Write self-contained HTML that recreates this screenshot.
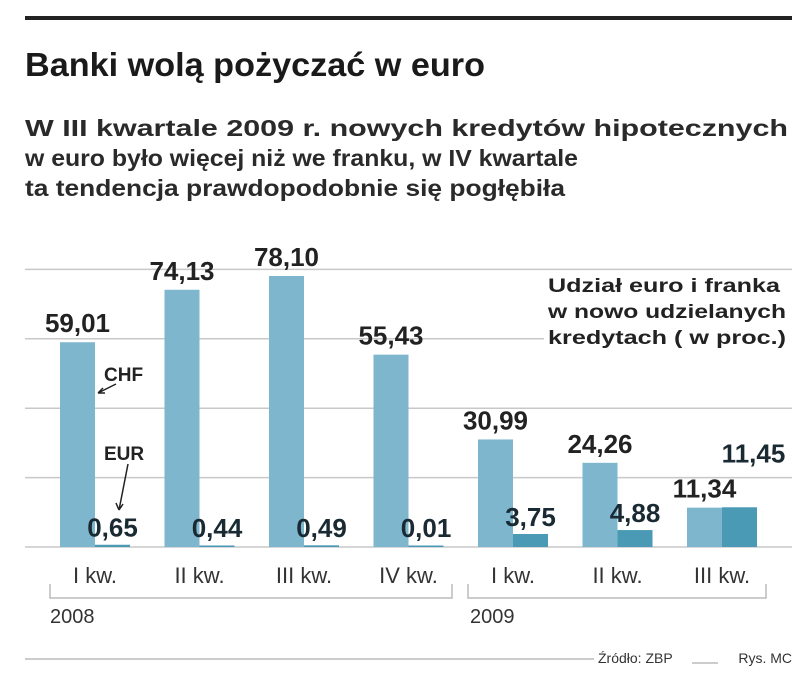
<!DOCTYPE html>
<html><head><meta charset="utf-8"><style>
body{margin:0;background:#fff;width:805px;height:681px;overflow:hidden;font-family:"Liberation Sans",sans-serif;}
</style></head><body>
<svg width="805" height="681" xmlns="http://www.w3.org/2000/svg" font-family="Liberation Sans, sans-serif">
<rect x="25" y="16" width="767" height="4" fill="#222"/>
<text x="25" y="76" font-size="33" font-weight="bold" fill="#1a1a1a" textLength="460" lengthAdjust="spacingAndGlyphs">Banki wolą pożyczać w euro</text>
<g font-size="23" font-weight="bold" fill="#2a2a2a">
<text x="25" y="136" textLength="763" lengthAdjust="spacingAndGlyphs">W III kwartale 2009 r. nowych kredytów hipotecznych</text>
<text x="25" y="166" textLength="553" lengthAdjust="spacingAndGlyphs">w euro było więcej niż we franku, w IV kwartale</text>
<text x="25" y="196" textLength="540" lengthAdjust="spacingAndGlyphs">ta tendencja prawdopodobnie się pogłębiła</text>
</g>
<g id="grid"></g>
<g id="bars"></g>
<rect x="544" y="276" width="248" height="76" fill="#fff"/>
<g font-size="19" font-weight="bold" fill="#222">
<text x="548" y="292" textLength="232" lengthAdjust="spacingAndGlyphs">Udział euro i franka</text>
<text x="548" y="318" textLength="238" lengthAdjust="spacingAndGlyphs">w nowo udzielanych</text>
<text x="548" y="344" textLength="238" lengthAdjust="spacingAndGlyphs">kredytach ( w proc.)</text>
</g>
<g font-size="19" font-weight="bold" fill="#222">
<text x="104" y="381">CHF</text>
<path d="M116 384 L98 393 M98 393 L103 388 M98 393 L105 393" stroke="#222" stroke-width="1.5" fill="none"/>
<text x="104" y="460">EUR</text>
<path d="M128 464 L119 510 M119 510 L116 503 M119 510 L123 504" stroke="#222" stroke-width="1.5" fill="none"/>
</g>
<g stroke="#bbb" stroke-width="1.5" fill="none">
<path d="M50 584 V598 H452 V584"/>
<path d="M468 584 V598 H766 V584"/>
</g>
<text x="50" y="623" font-size="20" fill="#333">2008</text>
<text x="470" y="623" font-size="20" fill="#333">2009</text>
<line x1="25" y1="659" x2="594" y2="659" stroke="#bbb" stroke-width="1.5"/>
<text x="598" y="663" font-size="14" fill="#333">Źródło: ZBP</text>
<line x1="692" y1="663" x2="718" y2="663" stroke="#bbb" stroke-width="1.5"/>
<text x="792" y="663" font-size="14" fill="#333" text-anchor="end">Rys. MC</text>
</svg>
<script>
const categories=["I kw.","II kw.","III kw.","IV kw.","I kw.","II kw.","III kw."];
const chfValues=[59.01,74.13,78.10,55.43,30.99,24.26,11.34];
const eurValues=[0.65,0.44,0.49,0.01,3.75,4.88,11.45];
const chfLabels=["59,01","74,13","78,10","55,43","30,99","24,26","11,34"];
const eurLabels=["0,65","0,44","0,49","0,01","3,75","4,88","11,45"];
const gridTicks=[0,20,40,60,80];
const NS="http://www.w3.org/2000/svg";
const y0=547,ppu=3.47,x0=60,step=104.5,bw=35;
const yS=v=>y0-v*ppu, xS=i=>x0+i*step;
function mk(t,a,p){const e=document.createElementNS(NS,t);for(const k in a)e.setAttribute(k,a[k]);p.appendChild(e);return e;}
const grid=document.getElementById('grid'),bars=document.getElementById('bars');
gridTicks.forEach(t=>{
 const l=mk('line',{x1:25,x2:792,y1:yS(t),y2:yS(t),stroke:'#c8c8c8','stroke-width':1.5},grid);
 
 
});
categories.forEach((c,i)=>{
 const x=xS(i);
 const r1=mk('rect',{x:x,y:yS(chfValues[i]),width:bw,height:chfValues[i]*ppu,fill:'#7db6cd'},bars);
 
 
 const h=Math.max(eurValues[i]*ppu,1.5);
 const r2=mk('rect',{x:x+bw,y:y0-h,width:bw,height:h,fill:'#4a9ab6'},bars);
 
 
 const t1=mk('text',{x:x+bw/2,y:yS(chfValues[i])-10,'font-size':26,'font-weight':'bold','text-anchor':'middle',fill:'#222'},bars);
 t1.textContent=chfLabels[i];
 
 
 let ey=Math.min(yS(eurValues[i])-8,537);
 if(i===6) ey=yS(eurValues[i])-45;
 const t2=mk('text',{x:x+bw*1.5+ (i===6?14:0),y:ey,'font-size':26,'font-weight':'bold','text-anchor':'middle',fill:'#1a2a33'},bars);
 t2.textContent=eurLabels[i];
 
 
 const t3=mk('text',{x:x+bw,y:583,'font-size':22,'text-anchor':'middle',fill:'#333'},bars);
 t3.textContent=c;
 
 
});
</script>
</body></html>
